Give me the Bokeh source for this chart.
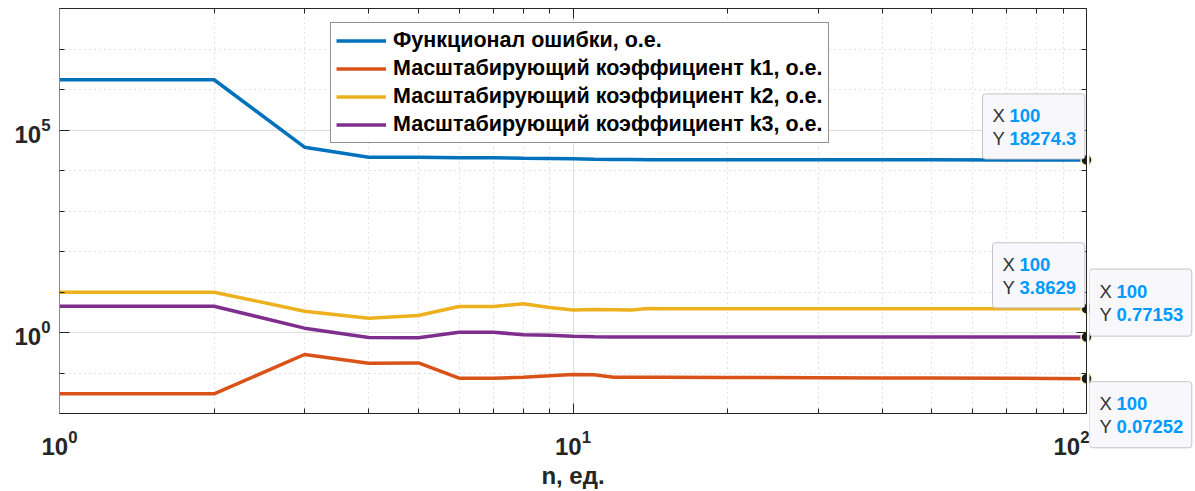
from bokeh.plotting import figure
from bokeh.layouts import row
from bokeh.models import (Range1d, FixedTicker, LogAxis, Legend, LegendItem, Label,
                          CustomJSTickFormatter)
from bokeh.embed import file_html
from bokeh.resources import INLINE

# ---------------- data ----------------
n = [1, 2, 3, 4, 5, 6, 7, 8, 9, 10, 11, 12, 13, 14, 15, 20, 30, 40, 50, 70, 100]
func_err = [1.74e6, 1.74e6, 3.76e4, 2.13e4, 2.11e4, 2.06e4, 2.05e4, 2.0e4, 1.97e4, 1.94e4,
            1.9e4, 1.87e4, 1.86e4, 1.85e4, 1.845e4, 1.84e4, 1.835e4, 1.832e4, 1.83e4,
            1.828e4, 18274.3]
k1 = [0.0306, 0.0306, 0.286, 0.175, 0.177, 0.0745, 0.0745, 0.0787, 0.0851, 0.0918,
      0.09, 0.079, 0.0785, 0.078, 0.078, 0.0775, 0.0765, 0.0755, 0.075, 0.074, 0.07252]
k2 = [9.9, 9.9, 3.36, 2.25, 2.63, 4.38, 4.38, 5.11, 4.14, 3.6, 3.7, 3.65, 3.6, 3.9,
      3.88, 3.87, 3.87, 3.865, 3.865, 3.863, 3.8629]
k3 = [4.46, 4.46, 1.28, 0.753, 0.74, 1.02, 1.02, 0.877, 0.857, 0.81, 0.78, 0.775, 0.774,
      0.773, 0.773, 0.772, 0.772, 0.772, 0.7716, 0.7716, 0.77153]

series = [func_err, k1, k2, k3]
names = ["Функционал ошибки, о.е.",
         "Масштабирующий коэффициент k1, о.е.",
         "Масштабирующий коэффициент k2, о.е.",
         "Масштабирующий коэффициент k3, о.е."]
colors = ["#0072BD", "#D95319", "#EDB120", "#7E2F8E"]

x_major = [1, 10, 100]
x_minor = [2, 3, 4, 5, 6, 7, 8, 9, 20, 30, 40, 50, 60, 70, 80, 90]
y_major = [1, 1e5]
y_minor = [1e-2, 1e-1, 1e1, 1e2, 1e3, 1e4, 1e6, 1e7, 1e8]
y_lo, y_hi = 1e-2, 1e8

tip_x_text = "100"
tip_y_texts = ["18274.3", "0.07252", "3.8629", "0.77153"]

# ---------------- layout constants ----------------
FONT = "Liberation Sans"
DARK = "#262626"
FRAME_W, FRAME_H = 1027, 405
B_LEFT, B_TOP, B_BOTTOM, B_RIGHT = 59, 8, 78, 3
SIDE_W = 104
TOTAL_H = B_TOP + FRAME_H + B_BOTTOM

# ---------------- main figure ----------------
p = figure(frame_width=FRAME_W, frame_height=FRAME_H, x_axis_type="log", y_axis_type="log",
           x_range=Range1d(1, 100), y_range=Range1d(y_lo, y_hi),
           output_backend="svg", toolbar_location=None,
           min_border_left=B_LEFT, min_border_right=B_RIGHT, min_border_top=B_TOP,
           min_border_bottom=B_BOTTOM)
p.frame_align = False
p.outline_line_color = None
p.background_fill_color = "white"
p.border_fill_color = "white"

xa = p.xaxis[0]
ya = p.yaxis[0]
xa.ticker = FixedTicker(ticks=x_major, minor_ticks=x_minor)
ya.ticker = FixedTicker(ticks=y_major, minor_ticks=y_minor)

for ax in (xa, ya):
    ax.major_tick_in = 10
    ax.major_tick_out = 0
    ax.minor_tick_in = 5
    ax.minor_tick_out = 0
    ax.axis_line_color = DARK
    ax.major_tick_line_color = DARK
    ax.minor_tick_line_color = DARK
    ax.major_label_text_font = FONT
    ax.major_label_text_font_style = "bold"
    ax.major_label_text_font_size = "24px"
    ax.major_label_text_color = DARK
ya.axis_line_color = "#8a8a8a"
xa.major_label_standoff = 16
ya.major_label_standoff = 9
xa.axis_label = "n, ед."
xa.axis_label_text_font = FONT
xa.axis_label_text_font_style = "bold"
xa.axis_label_text_font_size = "24px"
xa.axis_label_text_color = DARK
xa.axis_label_standoff = 4

for side, tk in (("above", FixedTicker(ticks=x_major, minor_ticks=x_minor)),
                 ("right", FixedTicker(ticks=y_major, minor_ticks=y_minor))):
    ax = LogAxis(ticker=tk, formatter=CustomJSTickFormatter(code="return ''"),
                 major_tick_in=10, major_tick_out=0, minor_tick_in=5, minor_tick_out=0,
                 major_label_standoff=0, axis_line_color=DARK,
                 major_tick_line_color=DARK, minor_tick_line_color=DARK,
                 major_label_text_font_size="1px")
    p.add_layout(ax, side)

for g in (p.xgrid[0], p.ygrid[0]):
    g.grid_line_color = "#dedede"
    g.grid_line_width = 1
    g.minor_grid_line_color = "#c6c6c6"
    g.minor_grid_line_dash = "1 4"
    g.minor_grid_line_width = 1

items = []
for ys, nm, c in zip(series, names, colors):
    r = p.line(n, ys, line_color=c, line_width=3.5)
    items.append(LegendItem(label=nm, renderers=[r]))

legend = Legend(items=items, location=(271, 270), orientation="vertical",
                border_line_color=DARK, border_line_width=1, background_fill_alpha=1,
                label_text_font=FONT, label_text_font_style="bold",
                label_text_font_size="21.5px", label_text_color="black",
                glyph_width=50, glyph_height=25, label_height=25, label_standoff=7,
                spacing=3, padding=5, margin=0)
p.add_layout(legend, "center")

# ---------------- side strip for the data tips that lie right of the axes ----------------
decade_px = FRAME_H / 10.0
q = figure(width=SIDE_W, height=TOTAL_H, x_range=Range1d(0, SIDE_W), y_axis_type="log",
           y_range=Range1d(10 ** (-2 - B_BOTTOM / decade_px), 10 ** (8 + B_TOP / decade_px)),
           x_axis_location=None, y_axis_location=None,
           output_backend="svg", toolbar_location=None, min_border=0)
q.frame_align = False
q.grid.visible = False
q.outline_line_color = None
q.background_fill_color = "white"
q.border_fill_color = "white"


def add_tip(fig, xa_, ya_, dx, dy, w, h, ytxt):
    fig.add_layout(Label(x=xa_, y=ya_, x_offset=dx, y_offset=dy, text=" ",
                         text_font_size="1px", text_align="left", text_baseline="top",
                         background_fill_color="#f8f8fc", background_fill_alpha=1,
                         border_line_color="#c4c4c4", border_line_width=1, border_radius=3,
                         padding=dict(left=0, right=w, top=0, bottom=h)))
    for line_i, (key, txt) in enumerate((("X", tip_x_text), ("Y", ytxt))):
        yo = dy - 22 - 23 * line_i
        fig.add_layout(Label(x=xa_, y=ya_, x_offset=dx + 10, y_offset=yo, text=key,
                             text_font=FONT, text_font_size="18.5px",
                             text_color="#333333", text_align="left",
                             text_baseline="middle"))
        fig.add_layout(Label(x=xa_, y=ya_, x_offset=dx + 27, y_offset=yo, text=txt,
                             text_font=FONT, text_font_size="18.5px",
                             text_font_style="bold", text_color="#0099ff",
                             text_align="left", text_baseline="middle"))


# tips: (figure, x offset of box, y offset of box top (up), width, height)
tip_geo = [(p, -104, 66, 102, 64), (q, 0, -3, 102, 65),
           (p, -94, 66, 92, 64), (q, 0, 68, 102, 66)]
last_vals = [ys[-1] for ys in series]
for yv, ytxt, (fig, dx, dy, w, h) in zip(last_vals, tip_y_texts, tip_geo):
    if fig is p:
        add_tip(p, n[-1], yv, dx, dy, w, h, ytxt)
    else:
        add_tip(q, 0, yv, dx, dy, w, h, ytxt)

# data-tip markers (split across the two canvases at the right axis)
dot_style = dict(size=11, fill_color="#1a1a1a", line_color="#fff3c0", line_width=1.5)
p.scatter([n[-1]] * len(last_vals), last_vals, **dot_style)
q.scatter([-B_RIGHT] * len(last_vals), last_vals, **dot_style)

layout = row(p, q, spacing=0)
open("out.html", "w").write(file_html(layout, INLINE))
